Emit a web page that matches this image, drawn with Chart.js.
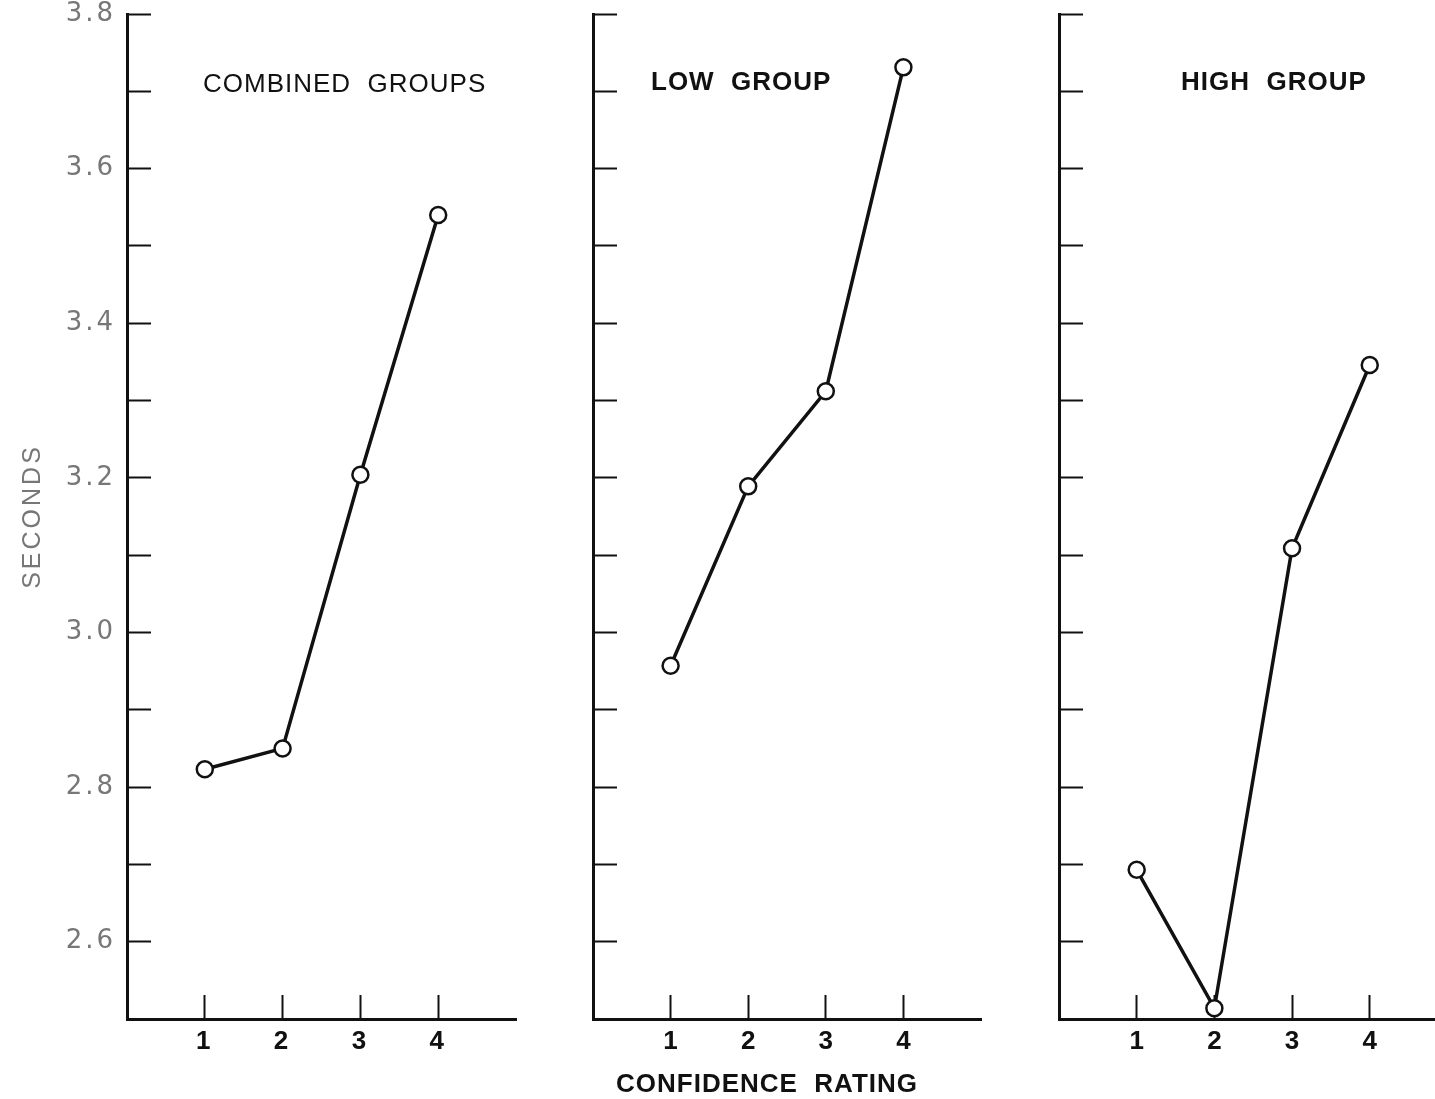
<!DOCTYPE html>
<html>
<head>
<meta charset="utf-8">
<script src="https://cdn.jsdelivr.net/npm/chart.js@4/dist/chart.umd.min.js"></script>
<style>
  body { margin: 0; background: #fff; width: 1435px; height: 1099px; overflow: hidden; position: relative; }
  .panel { position: absolute; top: 0; height: 1099px; }
  .lbl { position: absolute; font-family: "Liberation Sans", Arial, sans-serif; font-size: 26px; color: #111; white-space: pre; letter-spacing: 1px; line-height: 1; }
</style>
</head>
<body>
<div class="panel" style="left:0;width:530px"><canvas id="grafico__combined"></canvas></div>
<div class="panel" style="left:530px;width:470px"><canvas id="grafico__low"></canvas></div>
<div class="panel" style="left:1000px;width:435px"><canvas id="grafico__high"></canvas></div>

<div class="lbl" style="left:203px;top:70px;">COMBINED  GROUPS</div>
<div class="lbl" style="left:651px;top:68px;font-weight:bold;">LOW  GROUP</div>
<div class="lbl" style="left:1181px;top:68px;font-weight:bold;">HIGH  GROUP</div>
<div class="lbl" style="left:616px;top:1070px;font-weight:bold;">CONFIDENCE  RATING</div>

<script>
// confidence ratings on the x axis
const ratings = [1, 2, 3, 4];

// mean seconds per rating
const combinedGroups = [2.823, 2.850, 3.204, 3.540];
const lowGroup = [2.957, 3.189, 3.312, 3.731];
const highGroup = [2.693, 2.514, 3.109, 3.346];

const yMin = 2.5;
const yMax = 3.8;

// the old typewriter labels are spaced out
const spacedText = {
    id: 'spacedText',
    beforeDraw: chart => { chart.ctx.letterSpacing = '3px'; },
};

function makeChart(id, values, opts) {
    const ctx = document.getElementById(id);
    return new Chart(ctx, {
        type: 'line',
        data: {
            datasets: [
                {
                    data: ratings.map((r, i) => ({ x: r, y: values[i] })),
                    borderWidth: 3.5,
                    borderColor: '#111',
                    pointRadius: 8,
                    pointHoverRadius: 8,
                    pointBorderWidth: 2.5,
                    pointBorderColor: '#111',
                    pointBackgroundColor: '#fff',
                    tension: 0,
                    clip: false,
                },
            ]
        },
        plugins: opts.showLabels ? [spacedText] : [],
        options: {
            responsive: true,
            maintainAspectRatio: false,
            animation: false,
            layout: { autoPadding: false, padding: { top: 14, right: opts.padRight, bottom: 0, left: 0 } },
            plugins: { legend: { display: false }, tooltip: { enabled: false } },
            scales: {
                x: {
                    type: 'linear',
                    min: 0,
                    max: opts.xMax,
                    afterFit: s => {
                        s.height = 80;
                        s.paddingLeft = 0;
                        s.paddingRight = 0;
                    },
                    border: { color: '#111', width: 3 },
                    grid: { drawOnChartArea: false, tickLength: -24, tickWidth: 2, tickColor: '#111' },
                    ticks: {
                        stepSize: 1,
                        includeBounds: false,
                        padding: 34,
                        color: '#111',
                        font: { family: 'Liberation Sans', size: 26, weight: 'bold', lineHeight: 1 },
                        callback: v => (ratings.includes(v) ? String(v) : null),
                    },
                },
                y: {
                    min: yMin,
                    max: yMax,
                    afterFit: s => {
                        s.width = opts.yWidth;
                        s.paddingTop = 0;
                        s.paddingBottom = 0;
                    },
                    border: { color: '#111', width: 3 },
                    grid: { drawOnChartArea: false, tickLength: -24, tickWidth: 2, tickColor: '#111' },
                    title: {
                        display: opts.showLabels,
                        text: 'SECONDS',
                        color: '#777',
                        font: { family: 'Liberation Sans', size: 25 },
                        padding: { top: 18 },
                    },
                    ticks: {
                        stepSize: 0.1,
                        padding: 35,
                        color: '#777',
                        display: opts.showLabels,
                        font: { family: 'DejaVu Sans', size: 26, lineHeight: 1 },
                        callback: v => {
                            const t = Math.round(v * 10);
                            if (t <= 25) return null;
                            return t % 2 === 0 ? (t / 10).toFixed(1) : '';
                        },
                    },
                },
            },
        },
    });
}

makeChart('grafico__combined', combinedGroups, { yWidth: 127, padRight: 14, xMax: 5, showLabels: true });
makeChart('grafico__low', lowGroup, { yWidth: 63, padRight: 19, xMax: 5, showLabels: false });
makeChart('grafico__high', highGroup, { yWidth: 59, padRight: 0, xMax: 4.84, showLabels: false });
</script>
</body>
</html>
